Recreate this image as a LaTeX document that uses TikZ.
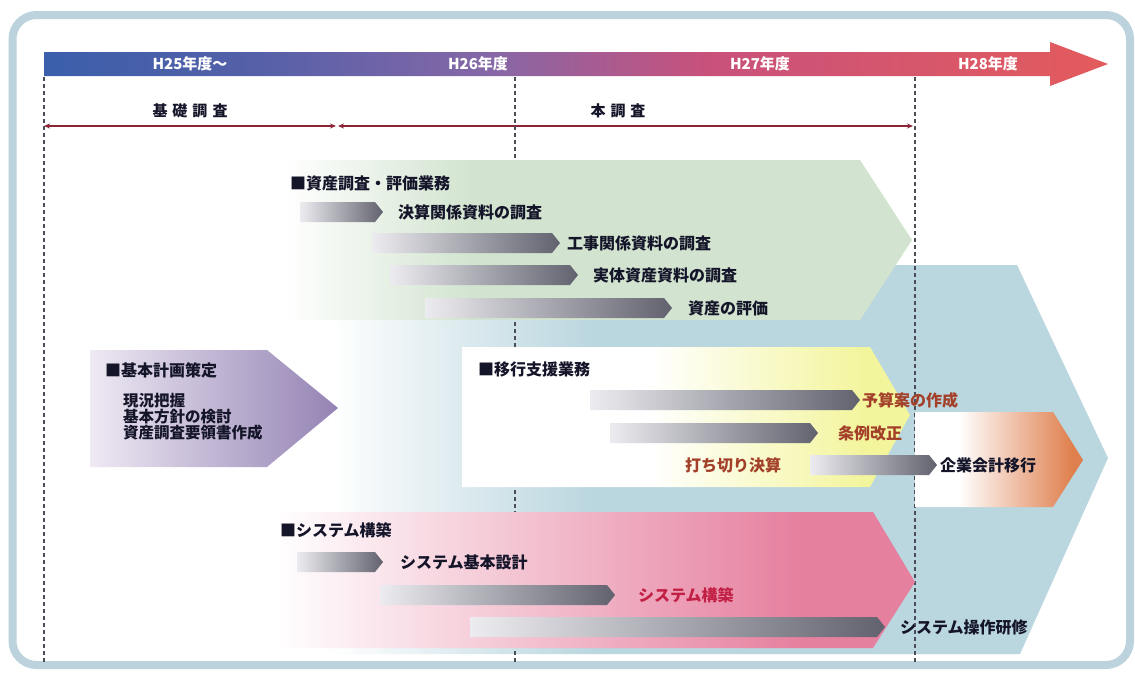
\documentclass[tikz,border=0pt]{standalone}
\usepackage{fontspec}
\setmainfont{Noto Sans CJK JP}
\usetikzlibrary{arrows.meta}

\definecolor{frame}{HTML}{BCD2DC}
\definecolor{barA}{HTML}{3B5FAB}
\definecolor{barB}{HTML}{5560A8}
\definecolor{barC}{HTML}{8667A7}
\definecolor{barD}{HTML}{C8517C}
\definecolor{barE}{HTML}{E35B5C}
\definecolor{gridline}{HTML}{4D4D58}
\definecolor{spanred}{HTML}{8C2438}
\definecolor{greenish}{HTML}{D2E4CF}
\definecolor{bluesh}{HTML}{BAD6DF}
\definecolor{yellowish}{HTML}{F3F59C}
\definecolor{pinkish}{HTML}{E6809F}
\definecolor{orangish}{HTML}{DF7F4D}
\definecolor{purplish}{HTML}{9483B4}
\definecolor{purplelight}{HTML}{EEE9F3}
\definecolor{arrowlight}{HTML}{ECECF0}
\definecolor{arrowdark}{HTML}{62626F}
\definecolor{ink}{HTML}{15152A}
\definecolor{brown}{HTML}{A3402A}
\definecolor{crimson}{HTML}{C21F45}

\pgfdeclarehorizontalshading{yearbar}{100bp}{color(0bp)=(barA); color(25bp)=(barA); color(35bp)=(barB); color(46bp)=(barC); color(56bp)=(barD); color(75bp)=(barE); color(100bp)=(barE)}
\pgfdeclarehorizontalshading{blueband}{100bp}{color(0bp)=(white); color(25bp)=(white); color(42bp)=(bluesh); color(100bp)=(bluesh)}
\pgfdeclarehorizontalshading{greenband}{100bp}{color(0bp)=(white); color(25bp)=(white); color(40bp)=(greenish); color(100bp)=(greenish)}
\pgfdeclarehorizontalshading{yellowband}{100bp}{color(0bp)=(white); color(25bp)=(white); color(46bp)=(white); color(70bp)=(yellowish); color(100bp)=(yellowish)}
\pgfdeclarehorizontalshading{pinkband}{100bp}{color(0bp)=(white); color(25bp)=(white); color(66bp)=(pinkish); color(100bp)=(pinkish)}
\pgfdeclarehorizontalshading{orangeband}{100bp}{color(0bp)=(white); color(25bp)=(white); color(38bp)=(white); color(72bp)=(orangish); color(100bp)=(orangish)}

\begin{document}
\begin{tikzpicture}[x=1pt, y=-1pt,
    lbl/.style={font=\bfseries\fontsize{16}{18}\selectfont, text=ink, inner sep=0pt, anchor=west},
    year/.style={font=\bfseries\fontsize{15}{17}\selectfont, text=white, inner sep=0pt},
    grid/.style={draw=gridline, line width=2pt, dash pattern=on 4pt off 3pt},
    span/.style={draw=spanred, line width=1.6pt, {Stealth[length=6pt,width=5pt]}-{Stealth[length=6pt,width=5pt]}},
    task/.style={left color=arrowlight, right color=arrowdark}]

\useasboundingbox (0,0) rectangle (1135,672);
\draw[line width=8pt, draw=frame, fill=white, rounded corners=24pt] (12.5,15) rectangle (1130,665);

% time axis
\shade[shading=yearbar] (44,52) -- (1050,52) -- (1050,42) -- (1108,64) -- (1050,86) -- (1050,76) -- (44,76) -- cycle;
\node[year] (y25) at (190,64) {H25年度～};
\node[year] (y26) at (478,64) {H26年度};
\node[year] (y27) at (760,64) {H27年度};
\node[year] (y28) at (988,64) {H28年度};

\node[lbl, anchor=center, font=\bfseries\fontsize{15}{17}\selectfont] (kiso) at (190,111) {基\hspace{5pt}礎\hspace{5pt}調\hspace{5pt}査};
\node[lbl, anchor=center, font=\bfseries\fontsize{15}{17}\selectfont] (hon)  at (618,111) {本\hspace{5pt}調\hspace{5pt}査};
\coordinate (s0) at (44,126);
\coordinate (s1) at (336,126);
\coordinate (s2) at (338,126);
\coordinate (s3) at (913,126);
\draw[span] (s0) -- (s1);
\draw[span] (s2) -- (s3);

% phases
\shade[shading=blueband] (330,265) -- (1017,265) -- (1108,458) -- (1020,654) -- (330,654) -- cycle;
\foreach \x in {44,515,915}
    \draw[grid] (\x,77) -- (\x,662);
\shade[shading=greenband] (285,160) -- (860,160) -- (912,240) -- (860,320) -- (285,320) -- cycle;
\shade[shading=yellowband] (462,347) -- (870,347) -- (910,415) -- (870,487) -- (462,487) -- cycle;
\shade[shading=orangeband] (915,412) -- (1053,412) -- (1083,460) -- (1053,507) -- (915,507) -- cycle;
\shade[shading=pinkband] (275,512) -- (873,512) -- (915,582) -- (873,648) -- (275,648) -- cycle;
\shade[left color=purplelight, right color=purplish] (90,350) -- (267,350) -- (338,408) -- (267,467) -- (90,467) -- cycle;

\node[lbl] (shisan) at (290,183) {■資産調査・評価業務};
\node[lbl] (keikaku) at (105,370) {■基本計画策定};
\node[lbl, anchor=north west, align=left, font=\bfseries\fontsize{15.5}{16}\selectfont] (naiyo) at (123,393) {現況把握\\基本方針の検討\\資産調査要領書作成};
\node[lbl] (ikou) at (478,369) {■移行支援業務};
\node[lbl] (system) at (280,530) {■システム構築};
\node[lbl, text=brown] (uchikiri) at (685,465) {打ち切り決算};

% tasks
\foreach \a/\b/\y/\lx/\t/\c/\n in {
    300/383/212/398/決算関係資料の調査/ink/kessan,
    372/560/243/567/工事関係資料の調査/ink/koji,
    390/578/275/593/実体資産資料の調査/ink/jittai,
    425/672/308/688/資産の評価/ink/hyoka,
    590/860/400/862/予算案の作成/brown/yosan,
    610/818/433/838/条例改正/brown/jorei,
    810/937/465/940/企業会計移行/ink/kigyo,
    297/383/562/400/システム基本設計/ink/kihon,
    380/615/595/638/システム構築/crimson/kochiku,
    470/885/627/900/システム操作研修/ink/kenshu}
{
    \shade[task] (\a,\y-10) -- (\b-8,\y-10) -- (\b,\y) -- (\b-8,\y+10) -- (\a,\y+10) -- cycle;
    \node[lbl, text=\c] (\n) at (\lx,\y) {\t};
}

\end{tikzpicture}
\end{document}
